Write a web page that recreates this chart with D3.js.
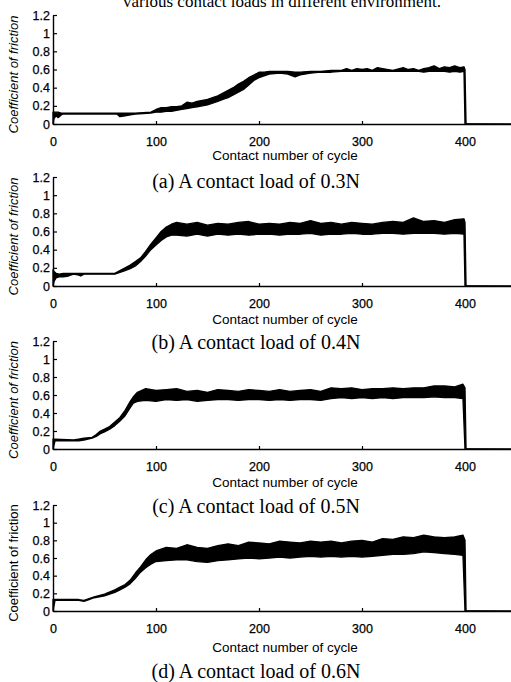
<!DOCTYPE html>
<html>
<head>
<meta charset="utf-8">
<script src="https://cdn.jsdelivr.net/npm/d3@7"></script>
<style>
  body { margin: 0; background: #fff; }
  svg { display: block; }
  .tick text { font-family: "Liberation Sans", Arial, sans-serif; font-size: 12.5px; fill: #000; stroke: #000; stroke-width: 0.25px; }
  .axis path, .axis line { stroke: #000; }
</style>
</head>
<body>
<div id="chart"></div>
<script>
var cyc03 = [0, 1, 3, 5, 8, 10, 30, 50, 62, 65, 70, 75, 80, 95, 100, 105, 110, 115, 120, 125, 130, 135, 140, 145, 150, 155, 160, 165, 170, 175, 180, 185, 190, 195, 200, 205, 210, 220, 228, 235, 240, 250, 260, 270, 280, 285, 290, 295, 300, 305, 310, 315, 320, 330, 340, 345, 350, 355, 360, 365, 370, 375, 380, 385, 390, 395, 399, 400, 401, 450];
var lo03 = [0, 0.06, 0.09, 0.07, 0.1, 0.11, 0.11, 0.11, 0.11, 0.08, 0.09, 0.1, 0.11, 0.12, 0.13, 0.13, 0.14, 0.14, 0.15, 0.16, 0.17, 0.18, 0.19, 0.2, 0.21, 0.23, 0.25, 0.27, 0.29, 0.32, 0.35, 0.38, 0.43, 0.48, 0.51, 0.53, 0.55, 0.56, 0.55, 0.52, 0.54, 0.56, 0.57, 0.57, 0.58, 0.58, 0.58, 0.58, 0.58, 0.58, 0.58, 0.58, 0.58, 0.58, 0.58, 0.58, 0.58, 0.58, 0.57, 0.58, 0.58, 0.58, 0.58, 0.57, 0.58, 0.57, 0.58, 0, 0, 0];
var hi03 = [0.13, 0.13, 0.13, 0.13, 0.12, 0.12, 0.12, 0.12, 0.12, 0.12, 0.12, 0.12, 0.12, 0.13, 0.16, 0.18, 0.18, 0.19, 0.19, 0.2, 0.24, 0.23, 0.25, 0.26, 0.27, 0.29, 0.31, 0.34, 0.37, 0.4, 0.44, 0.47, 0.51, 0.54, 0.57, 0.57, 0.58, 0.58, 0.58, 0.57, 0.57, 0.58, 0.58, 0.59, 0.59, 0.61, 0.59, 0.61, 0.6, 0.61, 0.59, 0.62, 0.61, 0.59, 0.62, 0.6, 0.61, 0.59, 0.61, 0.62, 0.64, 0.61, 0.63, 0.62, 0.64, 0.62, 0.63, 0.6, 0.005, 0];

var cyc04 = [0, 1, 3, 6, 10, 15, 20, 25, 27, 30, 60, 65, 70, 75, 80, 85, 90, 95, 100, 105, 110, 115, 120, 130, 140, 150, 160, 170, 180, 190, 200, 210, 220, 230, 240, 250, 260, 270, 280, 290, 300, 310, 320, 330, 340, 350, 360, 370, 380, 390, 399, 400, 401, 450];
var lo04 = [0, 0.05, 0.09, 0.1, 0.1, 0.11, 0.13, 0.12, 0.11, 0.13, 0.13, 0.15, 0.17, 0.19, 0.22, 0.27, 0.33, 0.4, 0.45, 0.5, 0.54, 0.56, 0.56, 0.55, 0.57, 0.55, 0.57, 0.56, 0.57, 0.56, 0.57, 0.57, 0.56, 0.57, 0.57, 0.58, 0.56, 0.57, 0.57, 0.58, 0.57, 0.57, 0.58, 0.58, 0.57, 0.58, 0.58, 0.58, 0.57, 0.58, 0.57, 0, 0, 0];
var hi04 = [0.18, 0.16, 0.14, 0.13, 0.14, 0.14, 0.14, 0.14, 0.14, 0.14, 0.14, 0.17, 0.2, 0.23, 0.27, 0.31, 0.38, 0.46, 0.53, 0.6, 0.65, 0.68, 0.7, 0.68, 0.7, 0.67, 0.69, 0.68, 0.7, 0.71, 0.68, 0.69, 0.68, 0.7, 0.69, 0.72, 0.69, 0.7, 0.68, 0.7, 0.69, 0.68, 0.7, 0.71, 0.7, 0.75, 0.71, 0.72, 0.7, 0.73, 0.74, 0.7, 0.005, 0];

var cyc05 = [0, 2, 20, 25, 30, 38, 42, 46, 50, 55, 60, 65, 70, 75, 78, 82, 90, 100, 110, 120, 130, 140, 150, 160, 170, 180, 190, 200, 210, 220, 230, 240, 250, 260, 270, 280, 290, 300, 310, 320, 330, 340, 350, 360, 370, 380, 390, 398, 400, 401, 450];
var lo05 = [0, 0.09, 0.09, 0.09, 0.1, 0.12, 0.14, 0.17, 0.19, 0.22, 0.26, 0.31, 0.37, 0.46, 0.51, 0.53, 0.54, 0.53, 0.55, 0.54, 0.55, 0.53, 0.54, 0.55, 0.55, 0.54, 0.55, 0.55, 0.54, 0.55, 0.54, 0.55, 0.55, 0.54, 0.56, 0.57, 0.56, 0.57, 0.56, 0.57, 0.56, 0.57, 0.57, 0.57, 0.58, 0.57, 0.57, 0.56, 0, 0, 0];
var hi05 = [0.11, 0.11, 0.1, 0.11, 0.12, 0.13, 0.16, 0.2, 0.22, 0.25, 0.3, 0.35, 0.43, 0.53, 0.58, 0.63, 0.67, 0.65, 0.66, 0.67, 0.64, 0.65, 0.63, 0.66, 0.65, 0.64, 0.66, 0.65, 0.64, 0.66, 0.64, 0.65, 0.66, 0.64, 0.68, 0.67, 0.68, 0.66, 0.67, 0.67, 0.68, 0.67, 0.68, 0.68, 0.7, 0.7, 0.69, 0.72, 0.68, 0.005, 0];

var cyc06 = [0, 2, 25, 30, 35, 40, 50, 60, 65, 70, 75, 80, 85, 90, 95, 100, 110, 120, 130, 140, 150, 160, 170, 180, 190, 200, 210, 220, 230, 240, 250, 260, 270, 280, 290, 300, 310, 320, 330, 340, 350, 360, 370, 380, 390, 398, 400, 401, 450];
var lo06 = [0, 0.12, 0.12, 0.11, 0.13, 0.15, 0.17, 0.21, 0.24, 0.27, 0.31, 0.37, 0.44, 0.49, 0.53, 0.56, 0.57, 0.58, 0.58, 0.56, 0.55, 0.57, 0.58, 0.59, 0.6, 0.59, 0.6, 0.61, 0.6, 0.61, 0.62, 0.61, 0.62, 0.61, 0.62, 0.61, 0.62, 0.63, 0.64, 0.64, 0.65, 0.67, 0.66, 0.65, 0.64, 0.63, 0, 0, 0];
var hi06 = [0.13, 0.13, 0.13, 0.12, 0.14, 0.16, 0.19, 0.24, 0.27, 0.3, 0.35, 0.43, 0.5, 0.58, 0.64, 0.68, 0.72, 0.71, 0.75, 0.72, 0.71, 0.74, 0.76, 0.74, 0.78, 0.77, 0.76, 0.79, 0.78, 0.77, 0.79, 0.78, 0.79, 0.77, 0.79, 0.8, 0.78, 0.82, 0.81, 0.84, 0.83, 0.86, 0.84, 0.83, 0.84, 0.86, 0.8, 0.005, 0];

var captions = ["(a) A contact load of 0.3N", "(b) A contact load of 0.4N", "(c) A contact load of 0.5N", "(d) A contact load of 0.6N"];
var xTicks = [0, 100, 200, 300, 400];
var yTicks = [0, 0.2, 0.4, 0.6, 0.8, 1, 1.2];

var series = [
  { cyc: cyc03, lo: lo03, hi: hi03 },
  { cyc: cyc04, lo: lo04, hi: hi04 },
  { cyc: cyc05, lo: lo05, hi: hi05 },
  { cyc: cyc06, lo: lo06, hi: hi06 }
];

// where each panel sits on the page
var panels = [
  { top: 15, bottom: 124, xTitle: 160, cap: 188 },
  { top: 177, bottom: 286, xTitle: 324, cap: 349 },
  { top: 341, bottom: 449, xTitle: 487, cap: 513 },
  { top: 505, bottom: 611, xTitle: 652, cap: 678 }
];

var width = 511, height = 682;
var left = 53;

var svg = d3.select('#chart')
  .append('svg')
  .attr('width', width)
  .attr('height', height);

// cut-off line of text from the page above the figure
svg.append('text')
  .attr('x', 282)
  .attr('y', 7)
  .attr('text-anchor', 'middle')
  .style('font-family', '"Liberation Serif", "Times New Roman", serif')
  .style('font-size', '17px')
  .text('various contact loads in different environment.');

var x = d3.scaleLinear().domain([0, 450]).range([left, left + 450 * 1.03]);

panels.forEach(function(p, i) {
  var s = series[i];
  var y = d3.scaleLinear().domain([0, 1.2]).range([p.bottom, p.top]);
  var g = svg.append('g');

  var pts = s.cyc.map(function(c, k) { return { c: c, lo: s.lo[k], hi: s.hi[k] }; });

  var band = d3.area()
    .x(function(d) { return x(d.c); })
    .y0(function(d) { return y(d.lo); })
    .y1(function(d) { return y(d.hi); });

  g.append('path')
    .datum(pts)
    .attr('d', band)
    .attr('fill', '#000')
    .attr('stroke', '#000')
    .attr('stroke-width', 1.3)
    .attr('stroke-linejoin', 'round');

  var xAxis = d3.axisBottom(x)
    .tickValues(xTicks)
    .tickSize(-3)
    .tickSizeOuter(0)
    .tickPadding(13);
  var gx = g.append('g')
    .attr('class', 'axis')
    .attr('transform', 'translate(0,' + p.bottom + ')')
    .call(xAxis);
  gx.select('.domain').attr('stroke-width', 1.6);
  gx.selectAll('.tick line').attr('stroke-width', 1.2);

  var yAxis = d3.axisLeft(y)
    .tickValues(yTicks)
    .tickFormat(d3.format('~g'))
    .tickSize(-4)
    .tickSizeOuter(0)
    .tickPadding(3);
  var gy = g.append('g')
    .attr('class', 'axis')
    .attr('transform', 'translate(' + left + ',0)')
    .call(yAxis);
  gy.select('.domain').attr('stroke-width', 1.4);
  gy.selectAll('.tick line').attr('stroke-width', 1.2);

  g.append('text')
    .attr('transform', 'translate(18,' + ((p.top + p.bottom) / 2 + 5) + ') rotate(-90)')
    .attr('text-anchor', 'middle')
    .style('font-family', '"Liberation Sans", Arial, sans-serif')
    .style('font-size', '13px')
    .style('font-style', i < 3 ? 'italic' : 'normal')
    .text('Coefficient of friction');

  g.append('text')
    .attr('x', 285)
    .attr('y', p.xTitle)
    .attr('text-anchor', 'middle')
    .style('font-family', '"Liberation Sans", Arial, sans-serif')
    .style('font-size', '13.5px')
    .text('Contact number of cycle');

  g.append('text')
    .attr('x', 256)
    .attr('y', p.cap)
    .attr('text-anchor', 'middle')
    .style('font-family', '"Liberation Serif", "Times New Roman", serif')
    .style('font-size', '20px')
    .text(captions[i]);
});
</script>
</body>
</html>
